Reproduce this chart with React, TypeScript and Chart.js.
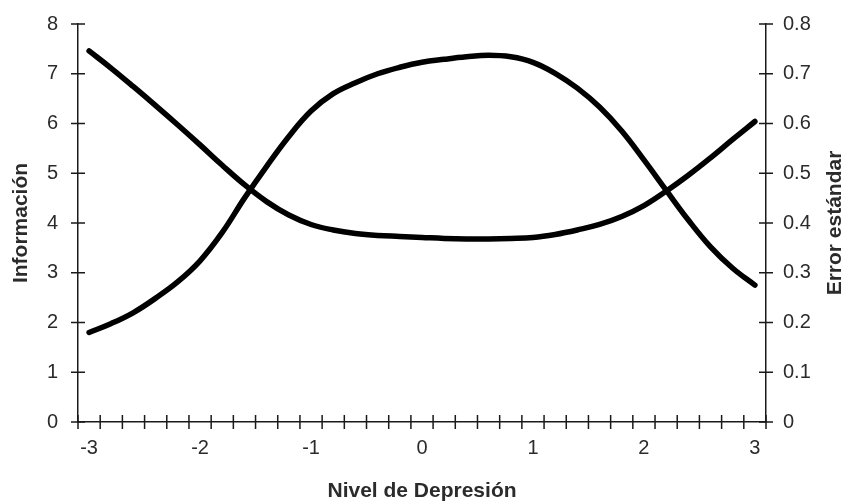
import React, { useEffect, useRef } from "react";
import { Chart, registerables } from "chart.js";

Chart.register(...registerables);

// Theta levels (Nivel de Depresión), every 0.2 from -3 to 3
const categories = [
  "-3", "-2.8", "-2.6", "-2.4", "-2.2", "-2", "-1.8", "-1.6", "-1.4", "-1.2", "-1",
  "-0.8", "-0.6", "-0.4", "-0.2", "0", "0.2", "0.4", "0.6", "0.8", "1",
  "1.2", "1.4", "1.6", "1.8", "2", "2.2", "2.4", "2.6", "2.8", "3",
];

// Test information (left axis)
const informacion = [
  1.8, 1.98, 2.2, 2.49, 2.82, 3.24, 3.81, 4.5, 5.14, 5.74, 6.25,
  6.6, 6.82, 7.0, 7.13, 7.23, 7.29, 7.34, 7.37, 7.34, 7.23,
  7.01, 6.71, 6.33, 5.85, 5.27, 4.66, 4.06, 3.52, 3.09, 2.75,
];

// Standard error (right axis)
const errorEstandar = [
  0.746, 0.711, 0.674, 0.636, 0.597, 0.557, 0.516, 0.477, 0.443, 0.416, 0.397,
  0.386, 0.379, 0.375, 0.373, 0.371, 0.369, 0.368, 0.368, 0.369, 0.371,
  0.377, 0.386, 0.397, 0.413, 0.435, 0.464, 0.496, 0.531, 0.568, 0.604,
];

const leftRange = [0, 8];
const rightRange = [0, 0.8];

const xTitle = "Nivel de Depresión";
const leftTitle = "Información";
const rightTitle = "Error estándar";

const FONT = '"Liberation Sans", Arial, sans-serif';
const AXIS = "#1a1a1a";
const TEXT = "#2b2b2b";

const crossTicks = {
  id: "crossTicks",
  afterDraw(chart: any) {
    const ctx = chart.ctx;
    const { x, y, y1 } = chart.scales;
    const L = 7;
    ctx.save();
    ctx.strokeStyle = AXIS;
    ctx.lineWidth = 1.5;
    ctx.beginPath();
    for (let i = 0; i <= categories.length; i++) {
      const px = x.getPixelForValue(i - 0.5);
      ctx.moveTo(px, x.top - L);
      ctx.lineTo(px, x.top + L);
    }
    y.ticks.forEach((_t: any, i: number) => {
      const py = y.getPixelForTick(i);
      ctx.moveTo(y.right - L, py);
      ctx.lineTo(y.right + L, py);
    });
    y1.ticks.forEach((_t: any, i: number) => {
      const py = y1.getPixelForTick(i);
      ctx.moveTo(y1.left - L, py);
      ctx.lineTo(y1.left + L, py);
    });
    ctx.stroke();

    const ca = chart.chartArea;
    ctx.translate(835, (ca.top + ca.bottom) / 2);
    ctx.rotate(-Math.PI / 2);
    ctx.font = `bold 21px ${FONT}`;
    ctx.fillStyle = TEXT;
    ctx.textAlign = "center";
    ctx.textBaseline = "middle";
    ctx.fillText(rightTitle, 0, 0);
    ctx.restore();
  },
};

const noPad = (s: any) => {
  s.paddingTop = 0;
  s.paddingBottom = 0;
  s.paddingLeft = 0;
  s.paddingRight = 0;
};

export default function App() {
  const ref = useRef<HTMLCanvasElement | null>(null);

  useEffect(() => {
    if (!ref.current) return;
    const lineStyle = {
      borderColor: "#000",
      borderWidth: 5.5,
      pointRadius: 0,
      tension: 0.4,
      borderCapStyle: "round",
      borderJoinStyle: "round",
      fill: false,
    };
    const chart = new Chart(ref.current, {
      type: "line",
      data: {
        labels: categories,
        datasets: [
          { label: leftTitle, data: informacion, yAxisID: "y", ...lineStyle },
          { label: rightTitle, data: errorEstandar, yAxisID: "y1", ...lineStyle },
        ],
      },
      options: {
        animation: false,
        responsive: false,
        maintainAspectRatio: false,
        layout: { padding: { top: 24, left: 0, right: 0, bottom: 0 } },
        plugins: { legend: { display: false }, tooltip: { enabled: false } },
        scales: {
          x: {
            type: "category",
            offset: true,
            grid: { display: false, drawTicks: false },
            border: { display: true, color: AXIS, width: 1.5 },
            ticks: {
              autoSkip: false,
              maxRotation: 0,
              padding: 14,
              color: TEXT,
              font: { family: FONT, size: 20 },
              callback: function (this: any, value: any) {
                const lab = this.getLabelForValue(value);
                return Number.isInteger(Number(lab)) ? lab : "";
              },
            },
            title: {
              display: true,
              text: xTitle,
              color: TEXT,
              font: { family: FONT, size: 21, weight: "bold" },
              padding: { top: 0, bottom: 0 },
            },
            afterFit: (s: any) => {
              s.height = 82;
              noPad(s);
            },
          },
          y: {
            position: "left",
            min: leftRange[0],
            max: leftRange[1],
            grid: { display: false, drawTicks: false },
            border: { display: true, color: AXIS, width: 1.5 },
            ticks: {
              stepSize: 1,
              padding: 20,
              color: TEXT,
              font: { family: FONT, size: 20 },
            },
            title: {
              display: true,
              text: leftTitle,
              color: TEXT,
              font: { family: FONT, size: 21, weight: "bold" },
              padding: { top: 9, bottom: 0 },
            },
            afterFit: (s: any) => {
              s.width = 78;
              noPad(s);
            },
          },
          y1: {
            position: "right",
            min: rightRange[0],
            max: rightRange[1],
            grid: { display: false, drawTicks: false },
            border: { display: true, color: AXIS, width: 1.5 },
            ticks: {
              stepSize: 0.1,
              padding: 17,
              color: TEXT,
              font: { family: FONT, size: 20 },
            },
            afterFit: (s: any) => {
              s.width = 79;
              noPad(s);
            },
          },
        },
      },
      plugins: [crossTicks],
    } as any);
    return () => chart.destroy();
  }, []);

  return (
    <div style={{ position: "fixed", left: 0, top: 0, width: 845, height: 504, background: "#fff" }}>
      <canvas ref={ref} width={845} height={504} style={{ width: 845, height: 504, display: "block" }} />
    </div>
  );
}
